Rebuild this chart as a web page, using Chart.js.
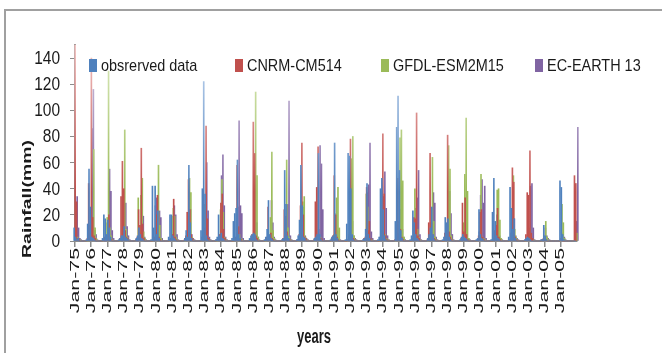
<!DOCTYPE html>
<html>
<head>
<meta charset="utf-8">
<title>Rainfall</title>
<script src="https://cdn.jsdelivr.net/npm/chart.js"></script>
<style>
  body { margin: 0; background: #fff; }
  canvas { display: block; }
</style>
</head>
<body>
<canvas id="chart" width="662" height="353"></canvas>
<script>
// years on the axis, months per year
const years = ['75','76','77','78','79','80','81','82','83','84','85','86','87','88','89','90',
               '91','92','93','94','95','96','97','98','99','00','01','02','03','04','05'];
const months = ['Jan','Feb','Mar','Apr','May','Jun','Jul','Aug','Sep','Oct','Nov','Dec'];
const yTicks = [0, 20, 40, 60, 80, 100, 120, 140];

// monthly rainfall (mm), one row per year, Jan..Dec
const observed = [
  10,3,1,2,0,0,0,0,0,1,13,55,
  26,3,2,1,0,0,0,0,0,2,20,17,
  5,16,10,3,0,0,0,0,0,1,2,4,
  4,11,3,2,1,0,0,0,0,0,2,4,
  10,5,2,1,0,0,0,0,0,1,42,10,
  42,5,23,2,0,0,0,0,0,0,3,20,
  20,4,2,1,0,0,0,0,0,0,2,8,
  3,58,14,2,0,0,0,0,0,0,8,40,
  122,36,4,1,0,0,0,0,0,1,3,20,
  4,6,2,1,0,0,0,0,0,2,15,21,
  25,62,5,2,0,0,0,0,0,0,2,4,
  5,6,5,1,0,0,0,0,0,1,3,9,
  31,5,2,1,0,0,0,0,0,0,1,2,
  54,28,4,2,0,0,0,0,0,1,4,16,
  58,27,3,2,0,0,0,0,0,0,2,3,
  5,67,5,1,0,0,0,0,0,0,1,3,
  4,75,5,2,0,0,0,0,0,1,13,67,
  65,40,5,1,0,0,0,0,0,0,1,2,
  9,44,5,2,0,0,0,0,0,1,3,40,
  48,24,4,1,0,0,0,0,0,0,15,87,
  111,54,8,2,0,0,0,0,0,1,4,23,
  14,5,2,1,0,0,0,0,0,0,2,5,
  10,26,5,1,0,0,0,0,0,1,3,18,
  14,17,3,1,0,0,0,0,0,0,1,3,
  5,3,2,1,0,0,0,0,0,0,1,2,
  24,5,2,1,0,0,0,0,0,1,22,48,
  15,4,2,1,0,0,0,0,0,0,3,41,
  25,9,17,2,0,0,0,0,0,0,1,2,
  3,2,1,0,0,0,0,0,0,0,1,1,
  12,4,1,0,0,0,0,0,0,0,0,0,
  46,41,5,1,0,0,0,0,0,0,0,0
];
const cnrm = [
  150,30,2,1,0,0,0,0,0,2,44,12,
  140,18,4,2,0,0,0,0,0,1,3,4,
  4,20,3,1,0,0,0,0,0,2,34,61,
  40,8,3,2,0,0,0,0,0,1,3,24,
  12,71,13,2,0,0,0,0,0,0,2,3,
  20,35,3,1,0,0,0,0,0,0,1,2,
  5,32,3,1,0,0,0,0,0,1,4,22,
  47,24,5,2,0,0,0,0,0,0,3,19,
  10,88,17,2,0,0,0,0,0,1,2,5,
  29,36,9,2,0,0,0,0,0,0,1,3,
  58,11,2,1,0,0,0,0,0,0,2,5,
  91,67,4,2,0,0,0,0,0,1,3,26,
  3,6,2,1,0,0,0,0,0,0,2,24,
  19,7,2,1,0,0,0,0,0,1,5,27,
  75,20,3,2,0,0,0,0,0,1,30,41,
  72,3,2,1,0,0,0,0,0,0,2,4,
  50,20,3,1,0,0,0,0,0,0,1,5,
  78,4,2,1,0,0,0,0,0,0,2,3,
  41,8,15,2,0,0,0,0,0,0,3,8,
  82,36,4,1,0,0,0,0,0,1,4,48,
  15,9,3,1,0,0,0,0,0,0,2,18,
  17,98,4,2,0,0,0,0,0,1,14,67,
  14,5,2,1,0,0,0,0,0,0,6,8,
  81,7,3,1,0,0,0,0,0,0,2,29,
  7,33,5,1,0,0,0,0,0,0,1,4,
  22,24,3,1,0,0,0,0,0,0,2,8,
  12,25,3,1,0,0,0,0,0,0,1,6,
  56,45,3,1,0,0,0,0,0,0,5,37,
  35,69,6,2,0,0,0,0,0,0,1,2,
  1,1,0,0,0,0,0,0,0,0,0,0,
  2,1,0,0,0,0,0,0,0,0,50,44
];
const gfdl = [
  10,3,1,1,0,0,0,0,0,0,2,4,
  6,70,10,2,0,0,0,0,0,1,14,18,
  130,10,4,1,0,0,0,0,0,0,2,4,
  85,9,3,1,0,0,0,0,0,1,33,5,
  35,48,7,2,0,0,0,0,0,0,3,17,
  10,58,12,2,0,0,0,0,0,0,2,19,
  25,19,3,1,0,0,0,0,0,0,2,7,
  48,37,3,1,0,0,0,0,0,0,4,28,
  7,4,2,1,0,0,0,0,0,0,3,24,
  47,22,3,1,0,0,0,0,0,0,1,3,
  11,5,2,1,0,0,0,0,0,0,1,2,
  25,114,50,3,0,0,0,0,0,0,1,3,
  18,68,8,2,0,0,0,0,0,0,1,3,
  62,10,3,1,0,0,0,0,0,0,2,17,
  30,34,3,1,0,0,0,0,0,0,1,3,
  3,3,1,0,0,0,0,0,0,0,1,5,
  17,33,41,10,0,0,0,0,0,0,3,60,
  63,80,4,1,0,0,0,0,0,0,2,36,
  26,5,2,1,0,0,0,0,0,0,1,3,
  8,5,2,1,0,0,0,0,0,0,2,6,
  79,85,46,3,0,0,0,0,0,0,4,40,
  24,9,3,1,0,0,0,0,0,0,2,7,
  64,15,3,1,0,0,0,0,0,0,1,5,
  73,55,4,1,0,0,0,0,0,0,2,14,
  51,94,38,2,0,0,0,0,0,0,1,3,
  51,3,2,1,0,0,0,0,0,0,2,10,
  39,40,16,2,0,0,0,0,0,0,1,8,
  50,9,3,1,0,0,0,0,0,0,2,10,
  10,4,2,1,0,0,0,0,0,0,1,4,
  15,3,1,0,0,0,0,0,0,0,0,0,
  28,14,2,0,0,0,0,0,0,0,1,6
];
const ecEarth = [
  34,10,2,1,0,0,0,0,0,1,13,86,
  116,8,5,1,0,0,0,0,0,0,2,4,
  55,38,8,2,0,0,0,0,0,0,1,3,
  29,11,4,1,0,0,0,0,0,0,2,6,
  12,19,3,1,0,0,0,0,0,0,27,33,
  27,23,18,2,0,0,0,0,0,0,1,4,
  27,20,5,1,0,0,0,0,0,0,1,3,
  24,5,2,1,0,0,0,0,0,0,2,8,
  60,23,3,1,0,0,0,0,0,0,4,50,
  66,27,3,1,0,0,0,0,0,0,3,26,
  92,27,21,2,0,0,0,0,0,0,2,27,
  32,14,3,1,0,0,0,0,0,0,2,5,
  31,14,3,1,0,0,0,0,0,0,1,6,
  28,107,4,1,0,0,0,0,0,0,2,9,
  26,4,2,1,0,0,0,0,0,0,2,9,
  73,59,24,2,0,0,0,0,0,0,1,5,
  21,8,2,1,0,0,0,0,0,0,1,3,
  15,4,2,1,0,0,0,0,0,0,3,37,
  43,75,7,2,0,0,0,0,0,0,2,34,
  53,25,4,1,0,0,0,0,0,0,1,3,
  24,9,3,1,0,0,0,0,0,0,2,25,
  33,54,5,1,0,0,0,0,0,0,1,4,
  37,29,3,1,0,0,0,0,0,0,2,5,
  38,21,5,1,0,0,0,0,0,0,1,3,
  10,4,2,1,0,0,0,0,0,0,7,35,
  47,29,42,2,0,0,0,0,0,0,2,20,
  12,4,2,1,0,0,0,0,0,0,1,25,
  17,4,2,1,0,0,0,0,0,0,1,3,
  42,44,10,1,0,0,0,0,0,0,2,10,
  4,2,1,0,0,0,0,0,0,0,0,0,
  6,3,1,0,0,0,0,0,0,11,15,87
];

const labels = [];
years.forEach(y => months.forEach(m => labels.push(m + '-' + y)));

const sans = '"Liberation Sans", Arial, sans-serif';
const axisGray = '#8c8c8c';
const ink = '#1a1a1a';

// excel-like fill: pale at the top of the plot, full colour at the base
function fill(base, pale) {
    return (ctx) => {
        const a = ctx.chart.chartArea;
        if (!a) return base;
        const g = ctx.chart.ctx.createLinearGradient(0, a.bottom, 0, a.top);
        g.addColorStop(0, base);
        g.addColorStop(0.25, base);
        g.addColorStop(1, pale);
        return g;
    };
}

const series = [
    { label: 'obsrerved data', data: observed, color: '#4F81BD', pale: '#C6D9F1' },
    { label: 'CNRM-CM514', data: cnrm, color: '#C0504D', pale: '#F2C4C3' },
    { label: 'GFDL-ESM2M15', data: gfdl, color: '#9BBB59', pale: '#DDEBC0' },
    { label: 'EC-EARTH 13', data: ecEarth, color: '#8064A2', pale: '#D5CCE3' }
];
const legendX = [89, 235, 381, 535];

// frame, legend, squeezed labels and titles
const decorations = {
    id: 'decorations',
    beforeDraw(chart) {
        const c = chart.ctx;
        c.save();
        c.strokeStyle = '#a0a0a0';
        c.lineWidth = 2;
        c.strokeRect(5, 10, 720, 420);
        c.restore();
    },
    afterDraw(chart) {
        const c = chart.ctx;
        const xs = chart.scales.x;
        const ys = chart.scales.y;
        const step = xs.getPixelForValue(1) - xs.getPixelForValue(0);

        c.save();
        c.fillStyle = ink;

        // y tick labels
        c.font = '18px ' + sans;
        c.textAlign = 'right';
        c.textBaseline = 'middle';
        yTicks.forEach(v => {
            c.save();
            c.translate(60, ys.getPixelForValue(v) + 1);
            c.scale(0.86, 1);
            c.fillText(String(v), 0, 0);
            c.restore();
        });

        // x labels (Jan of each year)
        c.font = '22px ' + sans;
        years.forEach((y, k) => {
            const x = xs.getPixelForValue(k * 12) - step / 2;
            c.save();
            c.translate(x, 248);
            c.rotate(-Math.PI / 2);
            c.scale(0.97, 0.6);
            c.fillText('Jan-' + y, 0, 0);
            c.restore();
        });

        // y title
        c.save();
        c.translate(28, 199);
        c.rotate(-Math.PI / 2);
        c.scale(1, 0.65);
        c.font = 'bold 19.5px ' + sans;
        c.textAlign = 'center';
        c.fillText('Rainfall(mm)', 0, 0);
        c.restore();

        // x title
        c.save();
        c.translate(314, 337);
        c.scale(0.65, 1);
        c.font = 'bold 20px ' + sans;
        c.textAlign = 'center';
        c.fillText('years', 0, 0);
        c.restore();

        // legend inside the plot
        c.font = '17px ' + sans;
        c.textAlign = 'left';
        series.forEach((s, i) => {
            c.fillStyle = s.color;
            c.fillRect(legendX[i], 59, 8, 13);
            c.fillStyle = ink;
            c.save();
            c.translate(legendX[i] + 12, 66);
            c.scale(0.85, 1);
            c.fillText(s.label, 0, 0);
            c.restore();
        });
        c.restore();
    }
};

new Chart(document.getElementById('chart'), {
    type: 'bar',
    data: {
        labels: labels,
        datasets: series.map(s => ({
            label: s.label,
            data: s.data,
            backgroundColor: fill(s.color, s.pale),
            borderWidth: 0,
            barThickness: 1,
            clip: false
        }))
    },
    options: {
        responsive: false,
        animation: false,
        layout: { padding: { left: 0, top: 45, right: 85, bottom: 0 } },
        plugins: {
            legend: { display: false },
            tooltip: { enabled: false }
        },
        scales: {
            x: {
                afterFit: (s) => { s.height = 112; },
                ticks: { display: false, autoSkip: false },
                grid: {
                    drawOnChartArea: false,
                    tickLength: 6,
                    lineWidth: 1.5,
                    color: (ctx) => ctx.index % 12 === 0 ? axisGray : 'rgba(0,0,0,0)'
                },
                border: { color: axisGray, width: 2 }
            },
            y: {
                min: 0,
                max: 150,
                afterFit: (s) => { s.width = 75; },
                afterBuildTicks: (s) => { s.ticks = yTicks.map(v => ({ value: v })); },
                ticks: { display: false },
                grid: {
                    drawOnChartArea: false,
                    tickLength: 5,
                    color: axisGray
                },
                border: { color: axisGray, width: 2 }
            }
        }
    },
    plugins: [decorations]
});
</script>
</body>
</html>
